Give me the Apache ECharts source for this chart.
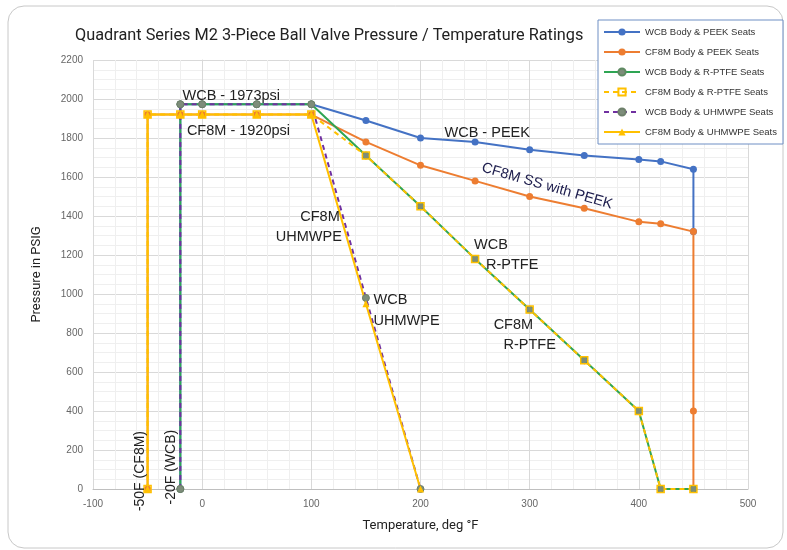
<!DOCTYPE html>
<html>
<head>
<meta charset="utf-8">
<script src="https://cdn.jsdelivr.net/npm/echarts@6/dist/echarts.min.js"></script>
<style>
  html, body { margin: 0; padding: 0; background: #fff; }
  #main { width: 787px; height: 550px; }
</style>
</head>
<body>
<div id="main"></div>
<script>
// temperatures (deg F) for each series
var tempWcbPeek = [-20, -20, 0, 50, 100, 150, 200, 250, 300, 350, 400, 420, 450, 450];
var wcbPeek     = [0, 1973, 1973, 1973, 1973, 1890, 1800, 1780, 1740, 1710, 1690, 1680, 1640, 1320];

var tempCf8mPeek = [-50, -50, -20, 0, 50, 100, 150, 200, 250, 300, 350, 400, 420, 450, 450, 450];
var cf8mPeek     = [0, 1920, 1920, 1920, 1920, 1920, 1780, 1660, 1580, 1500, 1440, 1370, 1360, 1320, 400, 0];

var tempWcbPtfe = [-20, -20, 0, 50, 100, 150, 200, 250, 300, 350, 400, 420, 450];
var wcbPtfe     = [0, 1973, 1973, 1973, 1973, 1710, 1450, 1180, 920, 660, 400, 0, 0];

var tempCf8mPtfe = [-50, -50, -20, 0, 50, 100, 150, 200, 250, 300, 350, 400, 420, 450];
var cf8mPtfe     = [0, 1920, 1920, 1920, 1920, 1920, 1710, 1450, 1180, 920, 660, 400, 0, 0];

var tempWcbUhmw = [-20, -20, 0, 50, 100, 150, 200];
var wcbUhmw     = [0, 1973, 1973, 1973, 1973, 980, 0];

var tempCf8mUhmw = [-50, -50, -20, 0, 50, 100, 150, 200];
var cf8mUhmw     = [0, 1920, 1920, 1920, 1920, 1920, 950, 0];

var seriesNames = ['WCB Body & PEEK Seats', 'CF8M Body & PEEK Seats', 'WCB Body & R-PTFE Seats',
                   'CF8M Body & R-PTFE Seats', 'WCB Body & UHMWPE Seats', 'CF8M Body & UHMWPE Seats'];

// text notes on the plot: [text, temp, psig, align, rotate(deg)]
var notes = [
  ['WCB - 1973psi', -18, 2015, 'left', 0],
  ['CF8M - 1920psi', -14, 1834, 'left', 0],
  ['WCB - PEEK', 222, 1824, 'left', 0],
  ['CF8M SS with PEEK', 316, 1553, 'center', -16],
  ['CF8M', 126, 1395, 'right', 0],
  ['UHMWPE', 128, 1292, 'right', 0],
  ['WCB', 157, 970, 'left', 0],
  ['UHMWPE', 157, 862, 'left', 0],
  ['WCB', 249, 1251, 'left', 0],
  ['R-PTFE', 260, 1149, 'left', 0],
  ['CF8M', 267, 841, 'left', 0],
  ['R-PTFE', 276, 739, 'left', 0],
  ['-50F (CF8M)', -57, 92, 'center', 90],
  ['-20F (WCB)', -28, 112, 'center', 90]
];

function pairs(xs, ys) {
  return xs.map(function (t, i) { return [t, ys[i]]; });
}

var chart = echarts.init(document.getElementById('main'));

var option = {
  animation: false,
  backgroundColor: '#fff',
  title: {
    text: 'Quadrant Series M2 3-Piece Ball Valve Pressure / Temperature Ratings',
    left: 70,
    top: 23,
    textStyle: { fontFamily: 'Roboto', fontSize: 16.3, fontWeight: 'normal', color: '#222' }
  },
  legend: {
    orient: 'vertical',
    left: 598,
    top: 20,
    data: seriesNames,
    backgroundColor: '#fff',
    borderColor: '#6f8fc4',
    borderWidth: 1,
    padding: [7, 6, 7, 5],
    itemGap: 10,
    itemWidth: 36,
    itemHeight: 9,
    textStyle: { fontFamily: 'Liberation Sans', fontSize: 9.5, color: '#333' }
  },
  grid: { left: 93, right: 39, top: 60, bottom: 61 },
  xAxis: {
    type: 'value',
    min: -100,
    max: 500,
    interval: 100,
    name: 'Temperature, deg \u00b0F',
    nameLocation: 'middle',
    nameGap: 30,
    nameTextStyle: { fontFamily: 'Roboto', fontSize: 13, color: '#222' },
    axisLine: { show: true, lineStyle: { color: '#bfbfbf' } },
    axisTick: { show: false },
    axisLabel: { color: '#666', fontSize: 10, fontFamily: 'Liberation Sans', margin: 10 },
    splitLine: { show: true, lineStyle: { color: '#d9d9d9' } },
    minorSplitLine: { show: true, lineStyle: { color: '#efefef' } },
    minorTick: { show: false, splitNumber: 5 }
  },
  yAxis: {
    type: 'value',
    min: 0,
    max: 2200,
    interval: 200,
    name: 'Pressure in PSIG',
    nameLocation: 'middle',
    nameGap: 50,
    nameTextStyle: { fontFamily: 'Roboto', fontSize: 13, color: '#222' },
    axisLine: { show: true, lineStyle: { color: '#d9d9d9' } },
    axisTick: { show: false },
    axisLabel: {
      color: '#666', fontSize: 10, fontFamily: 'Liberation Sans', margin: 10,
      formatter: function (v) { return String(v); }
    },
    splitLine: { show: true, lineStyle: { color: '#d9d9d9' } },
    minorSplitLine: { show: true, lineStyle: { color: '#efefef' } },
    minorTick: { show: false, splitNumber: 4 }
  },
  series: [
    {
      name: seriesNames[0], type: 'line', data: pairs(tempWcbPeek, wcbPeek),
      symbol: 'circle', symbolSize: 7,
      lineStyle: { color: '#4472C4', width: 2 },
      itemStyle: { color: '#4472C4' }
    },
    {
      name: seriesNames[1], type: 'line', data: pairs(tempCf8mPeek, cf8mPeek),
      symbol: 'circle', symbolSize: 7,
      lineStyle: { color: '#ED7D31', width: 2 },
      itemStyle: { color: '#ED7D31' }
    },
    {
      name: seriesNames[2], type: 'line', data: pairs(tempWcbPtfe, wcbPtfe),
      symbol: 'circle', symbolSize: 7,
      lineStyle: { color: '#2ea553', width: 2 },
      itemStyle: { color: '#7d8d7a', borderColor: '#5f8a62', borderWidth: 1 }
    },
    {
      name: seriesNames[3], type: 'line', data: pairs(tempCf8mPtfe, cf8mPtfe),
      symbol: 'rect', symbolSize: 7,
      lineStyle: { color: '#FFC000', width: 2, type: [5, 4] },
      itemStyle: { color: 'rgba(255,255,255,0)', borderColor: '#FFC000', borderWidth: 1.5 }
    },
    {
      name: seriesNames[4], type: 'line', data: pairs(tempWcbUhmw, wcbUhmw),
      symbol: 'circle', symbolSize: 7,
      lineStyle: { color: '#7030A0', width: 2, type: [5, 4] },
      itemStyle: { color: '#7d8d7a', borderColor: '#6d7f6a', borderWidth: 1 }
    },
    {
      name: seriesNames[5], type: 'line', data: pairs(tempCf8mUhmw, cf8mUhmw),
      symbol: 'triangle', symbolSize: 7,
      lineStyle: { color: '#FFC000', width: 2 },
      itemStyle: { color: '#FFC000' }
    }
  ]
};

chart.setOption(option);

// place notes using data coordinates
var graphics = [{
  type: 'rect',
  shape: { x: 8, y: 6, width: 775, height: 542, r: 16 },
  style: { fill: 'none', stroke: '#c8c8c8', lineWidth: 1 },
  silent: true,
  z: 0
}];
notes.forEach(function (n) {
  var p = chart.convertToPixel({ gridIndex: 0 }, [n[1], n[2]]);
  graphics.push({
    type: 'text',
    x: p[0],
    y: p[1],
    rotation: n[4] * Math.PI / 180,
    style: {
      text: n[0],
      fontFamily: 'Liberation Sans',
      fontSize: n[4] === 90 ? 14 : 14.5,
      fill: n[0] === 'CF8M SS with PEEK' ? '#20204f' : '#222',
      align: n[3],
      verticalAlign: 'middle'
    },
    z: 100
  });
});
chart.setOption({ graphic: graphics });
</script>
</body>
</html>
